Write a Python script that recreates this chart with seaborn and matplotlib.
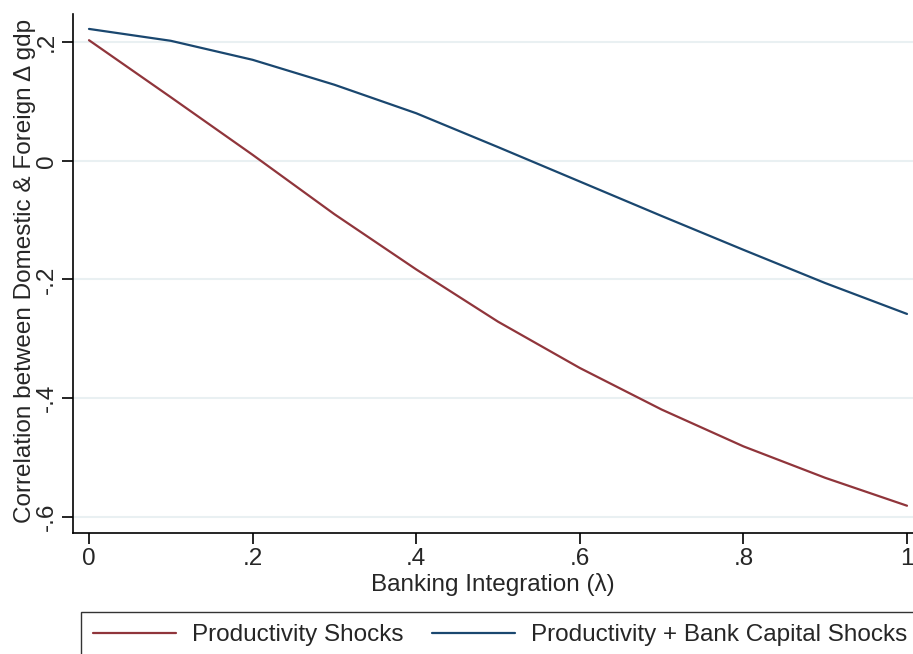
import matplotlib
matplotlib.use("Agg")
import matplotlib.pyplot as plt
import seaborn as sns
import pandas as pd

lam = [0.0, 0.1, 0.2, 0.3, 0.4, 0.5, 0.6, 0.7, 0.8, 0.9, 1.0]
prod_shocks = [0.203, 0.107, 0.010, -0.090, -0.183, -0.271, -0.349, -0.419, -0.481, -0.534, -0.581]
prod_bank_shocks = [0.222, 0.202, 0.170, 0.128, 0.080, 0.023, -0.035, -0.093, -0.150, -0.206, -0.258]
series_names = ["Productivity Shocks", "Productivity + Bank Capital Shocks"]
yticks = [0.2, 0.0, -0.2, -0.4, -0.6]
ytick_labels = [".2", "0", "-.2", "-.4", "-.6"]
xticks = [0.0, 0.2, 0.4, 0.6, 0.8, 1.0]
xtick_labels = ["0", ".2", ".4", ".6", ".8", "1"]

df = pd.DataFrame({
    "lam": lam * 2,
    "corr": prod_shocks + prod_bank_shocks,
    "series": [series_names[0]] * len(lam) + [series_names[1]] * len(lam),
})

fs = 17.5

sns.set_style("white")
plt.rcParams['font.family'] = ['Liberation Sans', 'DejaVu Sans']
plt.rcParams['font.size'] = fs

fig = plt.figure(figsize=(9.13, 6.54), dpi=100)
ax = fig.add_axes([73 / 913, 1 - 533 / 654, 840 / 913, 519 / 654])

sns.lineplot(data=df, x="lam", y="corr", hue="series", ax=ax,
             palette=["#90353b", "#1a476f"], linewidth=1.6)

ax.set_xlim(-16 / 818, 1 + 6 / 818)
ax.set_ylim(-0.6 - 16 / 594, 0.2 + 28 / 594)
ax.set_yticks(yticks)
ax.set_yticklabels(ytick_labels, rotation=90, va="center")
ax.set_xticks(xticks)
ax.set_xticklabels(xtick_labels)
ax.tick_params(axis="both", direction="out", length=8, width=1.2, color="black",
               labelsize=fs, pad=3, left=True, bottom=True)
ax.yaxis.grid(True, color="#e9f0f2", linewidth=1.5)
ax.set_axisbelow(True)
for s in ["top", "right"]:
    ax.spines[s].set_visible(False)
for s in ["left", "bottom"]:
    ax.spines[s].set_color("black")
    ax.spines[s].set_linewidth(1.2)

ax.set_xlabel("Banking Integration (λ)", fontsize=fs, labelpad=2)
ax.set_ylabel("Correlation between Domestic & Foreign Δ gdp", fontsize=fs, labelpad=0)
ax.yaxis.set_label_coords(-0.0445, 0.505)

sns.move_legend(ax, "upper left", bbox_to_anchor=(81 / 913, 1 - 612 / 654),
                bbox_transform=fig.transFigure, ncol=2, title=None, frameon=True,
                fancybox=False, edgecolor="black", borderaxespad=0, fontsize=fs,
                handlelength=3.4, handletextpad=0.65, columnspacing=1.2, borderpad=0.5)
leg = ax.get_legend()
leg.get_frame().set_linewidth(1.0)
for line in leg.get_lines():
    line.set_linewidth(1.6)

fig.savefig("out.png", dpi=100)
